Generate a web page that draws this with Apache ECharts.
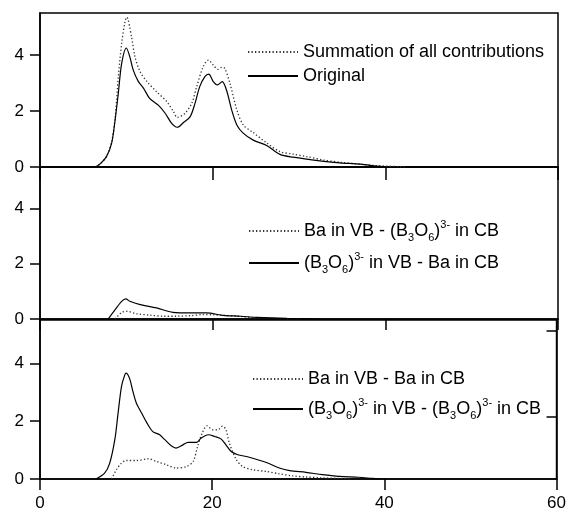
<!DOCTYPE html>
<html><head><meta charset="utf-8">
<script src="https://cdn.jsdelivr.net/npm/echarts@6/dist/echarts.min.js"></script>
<style>html,body{margin:0;padding:0;background:#fff}#c{width:569px;height:513px}</style>
</head><body><div id="c"></div><script>
// ---- data ----
const xTickValues = [0, 20, 40, 60];
const yTickValues = [0, 2, 4];
const rightTickValues = [2.14, 5.14];

const seriesNames = [
  'Summation of all contributions', 'Original',
  'Ba in VB - (B3O6)3- in CB', '(B3O6)3- in VB - Ba in CB',
  'Ba in VB - Ba in CB', '(B3O6)3- in VB - (B3O6)3- in CB'
];

const topSum = [[6.4,0],[7.0,0.12],[7.7,0.38],[8.3,0.9],[8.7,1.75],[9.07,3.22],[9.46,4.42],[9.85,5.19],[10.05,5.35],[10.6,4.65],[11.0,3.94],[11.6,3.4],[12.4,3.05],[13.5,2.69],[14.7,2.33],[15.45,1.98],[15.9,1.77],[16.8,1.92],[17.57,2.27],[18.15,2.87],[18.9,3.58],[19.5,3.82],[20.07,3.64],[20.6,3.49],[21.05,3.56],[21.4,3.52],[22.0,2.99],[22.8,2.04],[23.55,1.5],[24.7,1.23],[26.3,0.85],[27.8,0.55],[29.3,0.46],[30.9,0.37],[32.8,0.25],[34.75,0.17],[37.1,0.1],[39,0.05],[42.5,0]];
const topOrig = [[6.4,0],[7.0,0.12],[7.7,0.37],[8.3,0.85],[8.7,1.68],[9.07,2.63],[9.46,3.7],[10.0,4.25],[10.4,3.94],[10.8,3.46],[11.4,3.05],[12.0,2.81],[12.7,2.45],[13.7,2.21],[14.5,1.92],[15.25,1.56],[15.9,1.42],[16.6,1.58],[17.4,1.8],[17.95,2.27],[18.5,2.87],[19.1,3.23],[19.55,3.32],[20.07,3.05],[20.55,2.93],[21.1,3.05],[21.6,2.75],[22.2,2.04],[22.8,1.5],[23.5,1.22],[24.7,0.96],[26.3,0.76],[27.8,0.45],[29.3,0.35],[32.4,0.22],[34.75,0.15],[37.1,0.1],[39,0.03],[40,0]];

const midBaB = [[8.7,0],[9.46,0.24],[10.04,0.28],[11.2,0.19],[12.7,0.14],[14.3,0.1],[15.8,0.1],[17.4,0.12],[18.9,0.16],[20.1,0.15],[23,0.1],[25.1,0.04],[28.2,0.01],[30,0]];
const midBBa = [[7.9,0],[8.7,0.34],[9.46,0.64],[9.95,0.73],[10.4,0.64],[11.6,0.52],[13.5,0.4],[15.4,0.24],[17.4,0.22],[19.3,0.22],[21.2,0.13],[23.2,0.1],[25.1,0.06],[28.6,0.02],[32.4,0]];

const botBaBa = [[8.3,0],[8.88,0.32],[9.46,0.55],[10.04,0.64],[11.2,0.64],[12.55,0.7],[13.5,0.61],[14.7,0.49],[15.8,0.38],[17.0,0.43],[17.8,0.61],[18.3,1.12],[18.85,1.59],[19.4,1.84],[20.1,1.7],[20.65,1.7],[21.2,1.83],[21.6,1.7],[22.0,1.24],[22.8,0.67],[23.55,0.43],[24.7,0.32],[26.3,0.26],[27.8,0.18],[29.3,0.11],[30.9,0.07],[32.8,0.04],[34.75,0.02],[36,0]];
const botBB = [[6.5,0],[7.5,0.2],[8.1,0.55],[8.69,1.36],[9.07,2.28],[9.46,3.19],[9.85,3.6],[10.0,3.66],[10.4,3.48],[10.8,3.02],[11.2,2.62],[11.8,2.28],[12.4,1.95],[13.1,1.64],[13.9,1.53],[14.5,1.36],[15.25,1.15],[15.8,1.07],[16.6,1.18],[17.2,1.27],[18.2,1.27],[18.7,1.41],[19.55,1.53],[20.3,1.47],[21.05,1.38],[21.6,1.18],[22.2,0.95],[22.97,0.84],[24.2,0.76],[26.3,0.57],[27.8,0.38],[29,0.29],[30.9,0.23],[32.8,0.15],[34.75,0.09],[37,0.06],[38.6,0.02],[39.5,0]];

// ---- chart ----
const FONT = '"Liberation Sans", Arial, Helvetica, sans-serif';
const richMap = {
  'Summation of all contributions': '{n|Summation of all contributions}',
  'Original': '{n|Original}',
  'Ba in VB - (B3O6)3- in CB': '{n|Ba in VB - (B}{s|3}{n|O}{s|6}{n|)}{p|3-}{n| in CB}',
  '(B3O6)3- in VB - Ba in CB': '{n|(B}{s|3}{n|O}{s|6}{n|)}{p|3-}{n| in VB - Ba in CB}',
  'Ba in VB - Ba in CB': '{n|Ba in VB - Ba in CB}',
  '(B3O6)3- in VB - (B3O6)3- in CB': '{n|(B}{s|3}{n|O}{s|6}{n|)}{p|3-}{n| in VB - (B}{s|3}{n|O}{s|6}{n|)}{p|3-}{n| in CB}'
};
const rich = {
  n: {fontSize: 18, fontFamily: FONT, color: '#000', lineHeight: 24},
  s: {fontSize: 11, fontFamily: FONT, color: '#000', lineHeight: 12, verticalAlign: 'bottom'},
  p: {fontSize: 11, fontFamily: FONT, color: '#000', lineHeight: 12, verticalAlign: 'top'}
};

const grids = [
  {left: 40, right: 11, top: 13, height: 154},
  {left: 40, right: 11, top: 167, height: 152},
  {left: 40, right: 11, top: 320, height: 159}
];

function xAxisFor(i) {
  return {
    type: 'value', gridIndex: i, min: 0, max: 60, interval: 20,
    axisLine: {show: true, lineStyle: {color: '#000', width: 1.5}},
    axisTick: {show: true, inside: false, length: i === 0 ? 13 : 11, customValues: xTickValues, lineStyle: {color: '#000', width: 1.5}},
    axisLabel: {show: i === 2, fontSize: 17, fontFamily: FONT, color: '#000', margin: 16, customValues: xTickValues},
    splitLine: {show: false}
  };
}
function yAxisFor(i) {
  return {
    type: 'value', gridIndex: i, min: 0, max: 5.5, position: 'left',
    axisLine: {show: true, lineStyle: {color: '#000', width: 1.5}},
    axisTick: {show: true, inside: false, length: 10, customValues: yTickValues, lineStyle: {color: '#000', width: 1.5}},
    axisLabel: {show: true, fontSize: 17, fontFamily: FONT, color: '#000', margin: 16, customValues: yTickValues},
    splitLine: {show: false}
  };
}
const yAxes = [yAxisFor(0), yAxisFor(1), yAxisFor(2), {
  type: 'value', gridIndex: 2, min: 0, max: 5.5, position: 'right',
  axisLine: {show: true, lineStyle: {color: '#000', width: 1.5}},
  axisTick: {show: true, inside: true, length: 10, customValues: rightTickValues, lineStyle: {color: '#000', width: 1.5}},
  axisLabel: {show: false},
  splitLine: {show: false}
}];

function lineSeries(name, data, gi, dotted) {
  return {
    name: name, type: 'line', xAxisIndex: gi, yAxisIndex: gi, data: data,
    symbol: 'none', smooth: 0.3, silent: true,
    itemStyle: {color: '#000'},
    lineStyle: dotted ? {color: '#333', width: 1.3, type: [1.3, 2.2]} : {color: '#000', width: 1.2}
  };
}

function legendFor(names, left, top, gap) {
  return {
    data: names, orient: 'vertical', left: left, top: top, itemGap: gap, padding: 0,
    itemWidth: 50, itemHeight: 2, selectedMode: false,
    itemStyle: {opacity: 0},
    formatter: function (name) { return richMap[name]; },
    textStyle: {rich: rich, fontSize: 18, fontFamily: FONT, color: '#000'}
  };
}

const option = {
  animation: false,
  backgroundColor: '#fff',
  grid: grids.map(g => Object.assign({show: true, borderColor: '#000', borderWidth: 1.5, backgroundColor: 'transparent'}, g)),
  xAxis: [xAxisFor(0), xAxisFor(1), xAxisFor(2)],
  yAxis: yAxes,
  legend: [
    legendFor([seriesNames[0], seriesNames[1]], 247, 43, 6),
    legendFor([seriesNames[2], seriesNames[3]], 248, 219, 8),
    legendFor([seriesNames[4], seriesNames[5]], 252, 370, 9)
  ],
  series: [
    lineSeries(seriesNames[0], topSum, 0, true),
    lineSeries(seriesNames[1], topOrig, 0, false),
    lineSeries(seriesNames[2], midBaB, 1, true),
    lineSeries(seriesNames[3], midBBa, 1, false),
    lineSeries(seriesNames[4], botBaBa, 2, true),
    lineSeries(seriesNames[5], botBB, 2, false)
  ]
};
const chart = echarts.init(document.getElementById('c'), null, {renderer: 'canvas'});
chart.setOption(option);
</script></body></html>
